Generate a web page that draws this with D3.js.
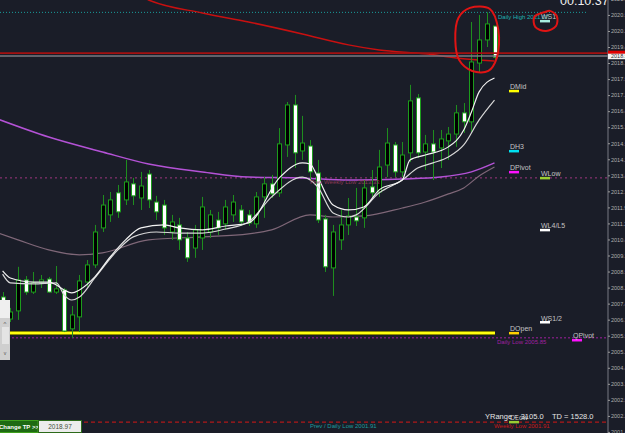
<!DOCTYPE html>
<html lang="en">
<head>
<meta charset="UTF-8">
<title>Price chart</title>
<script src="https://d3js.org/d3.v7.min.js"></script>
<style>
  body { margin: 0; background: #1a1d28; }
  svg { display: block; font-family: "Liberation Sans", Arial, sans-serif; }
</style>
</head>
<body>
<script>
// candles (black body = up bar, white body = down bar)
const opens  = [2007.76,2006.73,2007.11,2008.56,2007.99,2008.46,2008.60,2007.99,2008.09,2006.27,2006.83,2008.46,2009.26,2010.99,2011.60,2012.63,2012.30,2013.05,2012.39,2013.51,2012.20,2012.06,2010.80,2011.13,2010.52,2010.05,2010.52,2010.80,2011.36,2011.18,2011.60,2011.83,2011.60,2011.18,2012.44,2013.05,2012.63,2014.87,2016.74,2014.59,2014.82,2013.56,2011.41,2009.12,2010.43,2011.13,2011.50,2011.46,2012.91,2012.67,2013.93,2014.87,2013.61,2014.50,2017.07,2014.54,2014.92,2014.73,2015.06,2015.38,2016.37,2015.95,2018.70,2019.78,2020.43];
const highs  = [2007.99,2007.25,2009.17,2008.74,2008.93,2008.79,2008.70,2009.21,2008.18,2007.34,2008.79,2009.49,2011.13,2012.53,2012.67,2013.00,2014.17,2013.33,2013.61,2013.70,2012.49,2012.30,2011.60,2011.46,2010.80,2011.13,2012.44,2011.83,2011.74,2012.30,2012.53,2012.06,2011.83,2012.67,2013.37,2013.47,2015.66,2016.88,2017.21,2016.23,2015.10,2014.17,2011.60,2011.13,2011.83,2012.39,2012.86,2013.23,2013.70,2014.64,2015.66,2015.01,2015.01,2017.68,2017.25,2015.34,2015.57,2015.57,2015.71,2016.74,2016.83,2020.62,2020.95,2021.07,2020.43];
const lows   = [2007.34,2006.59,2006.69,2007.86,2007.90,2008.18,2007.95,2007.90,2006.12,2005.85,2006.12,2008.23,2009.12,2010.80,2011.27,2011.46,2012.06,2012.06,2011.83,2011.92,2011.36,2010.66,2010.43,2009.96,2009.40,2009.59,2009.96,2010.52,2010.66,2010.90,2011.27,2011.08,2011.08,2010.99,2011.46,2012.39,2012.44,2014.31,2013.79,2014.17,2013.23,2011.22,2008.93,2007.81,2009.96,2010.66,2011.08,2010.99,2012.44,2012.44,2013.37,2013.37,2013.37,2014.07,2014.26,2013.70,2013.23,2013.79,2014.17,2014.78,2015.43,2015.48,2018.28,2019.45,2018.75];
const closes = [2007.48,2007.06,2008.56,2007.99,2008.42,2008.56,2007.99,2008.14,2006.17,2006.92,2008.51,2009.26,2010.80,2012.06,2012.30,2011.74,2013.14,2012.49,2012.95,2012.30,2011.74,2010.99,2011.27,2010.43,2009.59,2010.90,2011.97,2011.60,2010.99,2011.97,2012.20,2011.27,2011.22,2012.44,2013.05,2012.58,2014.92,2016.74,2014.50,2014.96,2013.61,2011.36,2009.17,2010.80,2011.13,2011.55,2011.32,2012.86,2012.63,2013.84,2014.96,2013.61,2014.40,2016.93,2014.50,2014.92,2014.54,2015.15,2015.38,2016.37,2015.95,2018.75,2019.78,2020.53,2018.97];

// moving averages as [bar, price] points
const redMA    = [[17,2022.0],[19,2021.65],[26,2021.04],[32,2020.62],[39,2020.06],[45,2019.55],[49,2019.31],[55,2019.13],[59,2018.94],[64,2018.80]];
const purpleMA = [[-1,2016.13],[6,2015.24],[13,2014.54],[19,2013.98],[26,2013.61],[32,2013.37],[39,2013.33],[45,2013.23],[52,2013.28],[57,2013.37],[61,2013.61],[64,2014.03]];
const mauveMA  = [[-1,2010.80],[2,2010.43],[6,2009.96],[10,2009.73],[13,2009.82],[19,2010.43],[26,2010.57],[32,2010.71],[35,2010.90],[40,2011.60],[43,2011.50],[47,2011.55],[52,2011.92],[55,2012.20],[58,2012.58],[60,2012.86],[62,2013.42],[64,2013.84]];
const fastMA   = [[0,2008.98],[1,2008.65],[4,2008.46],[6,2008.46],[7,2008.32],[8,2008.09],[9,2007.95],[10,2008.09],[12,2008.70],[14,2009.63],[16,2010.43],[18,2010.99],[21,2011.13],[23,2010.99],[26,2010.90],[29,2011.08],[32,2011.22],[36,2013.33],[39,2014.03],[40,2013.98],[41,2013.37],[43,2012.06],[45,2011.83],[47,2011.97],[49,2012.77],[52,2013.23],[53,2014.17],[55,2014.40],[58,2014.78],[60,2015.57],[61,2016.41],[62,2017.35],[64,2018.00]];
const slowMA   = [[0,2008.83],[1,2008.42],[4,2008.37],[7,2008.42],[8,2007.86],[9,2007.62],[10,2007.76],[12,2008.65],[15,2009.96],[17,2010.57],[20,2010.80],[23,2010.75],[26,2010.75],[29,2010.94],[32,2011.27],[35,2012.44],[39,2013.37],[41,2012.91],[43,2011.69],[45,2011.50],[46,2011.60],[49,2012.63],[52,2013.23],[54,2013.79],[56,2014.03],[58,2014.31],[60,2014.87],[62,2016.04],[64,2016.97]];

// horizontal levels
const dailyHigh = 2021.07;
const prevWeeklyLow = 2013.33;
const dailyOpen = 2006.08;
const dailyLow = 2005.85;
const weeklyLow = 2001.91;
const priceLines = [2019.16, 2019.03];
const lastPrice = '2018.97';

// level markers on the right
const markerNames  = ['WS1','DMid','DH3','DPivot','WLow','WL4/L5','WS1/2','DOpen','QPivot','DLow'];
const markerPrices = [2020.67,2017.40,2014.59,2013.61,2013.33,2010.90,2006.59,2006.08,2005.75,2001.92];
const markerGroups = ['W','D','D','D','W','W','W','D','Q','D'];

// price axis
const tickValues = [2021.7,2020.95,2020.2,2019.45,2018.7,2017.95,2017.2,2016.45,2015.7,2014.95,2014.2,2013.45,2012.7,2011.95,2011.2,2010.45,2009.7,2008.95,2008.2,2007.45,2006.7,2005.95,2005.2,2004.45,2003.7,2002.95,2002.2,2001.45];
const tickLabels = ['2021.7','2020.9','2020.2','2019.4','2018.7','2017.9','2017.2','2016.4','2015.7','2014.9','2014.2','2013.4','2012.7','2011.9','2011.2','2010.4','2009.7','2008.9','2008.2','2007.4','2006.7','2005.9','2005.2','2004.4','2003.7','2002.9','2002.2','2001.4'];

// hand drawn annotations, [bar, price]
const bigLoop   = [[60.8,2021.28],[59.3,2020.81],[58.9,2019.78],[59.4,2018.84],[61.1,2018.33],[63.2,2018.33],[64.3,2018.94],[64.5,2020.25],[63.4,2021.23]];
const smallLoop = [[70.6,2021.09],[69.2,2020.86],[69.3,2020.39],[70.7,2020.2],[72.0,2020.43],[72.1,2020.9],[71.2,2021.14]];

const width = 625, height = 433;
const axisX = 608;

const svg = d3.select('body').append('svg')
  .attr('width', width).attr('height', height);

svg.append('rect').attr('width', width).attr('height', height).attr('fill', '#1a1d28');

const xScale = d3.scaleLinear().domain([0, 64]).range([2.6, 494.5]);
const yScale = d3.scaleLinear().domain([2001.4, 2020.9]).range([433, 16]);

const plot = svg.append('g');

// dotted / dashed level lines
plot.append('line').attr('x1', 0).attr('x2', 586).attr('y1', yScale(dailyHigh)).attr('y2', yScale(dailyHigh))
  .attr('stroke', '#1a9c9c').attr('stroke-dasharray', '1,2');
plot.append('line').attr('x1', 0).attr('x2', axisX).attr('y1', yScale(prevWeeklyLow)).attr('y2', yScale(prevWeeklyLow))
  .attr('stroke', '#a0357f').attr('stroke-dasharray', '2,3');
plot.append('line').attr('x1', 0).attr('x2', axisX).attr('y1', yScale(dailyLow)).attr('y2', yScale(dailyLow))
  .attr('stroke', '#a020a0').attr('stroke-dasharray', '2,2');
plot.append('line').attr('x1', 0).attr('x2', axisX).attr('y1', yScale(weeklyLow)).attr('y2', yScale(weeklyLow))
  .attr('stroke', '#b01818').attr('stroke-width', 1.2).attr('stroke-dasharray', '4,3');

// moving averages
const line = d3.line().x(d => xScale(d[0])).y(d => yScale(d[1])).curve(d3.curveMonotoneX);
plot.append('path').attr('d', line(mauveMA)).attr('fill', 'none').attr('stroke', '#7f6778').attr('stroke-width', 1.2);
plot.append('path').attr('d', line(purpleMA)).attr('fill', 'none').attr('stroke', '#b452d6').attr('stroke-width', 1.5);
plot.append('path').attr('d', line(redMA)).attr('fill', 'none').attr('stroke', '#c81010').attr('stroke-width', 1.5);

// yellow open line
plot.append('line').attr('x1', 0).attr('x2', 495).attr('y1', yScale(dailyOpen)).attr('y2', yScale(dailyOpen))
  .attr('stroke', '#8c8c00').attr('stroke-width', 4);
plot.append('line').attr('x1', 0).attr('x2', 495).attr('y1', yScale(dailyOpen)).attr('y2', yScale(dailyOpen))
  .attr('stroke', '#ffff10').attr('stroke-width', 2);

// candles
const candles = opens.map((o, i) => ({ i: i, o: o, h: highs[i], l: lows[i], c: closes[i] }));
const bars = plot.append('g');
bars.selectAll('.wick').data(candles).enter().append('line')
  .attr('x1', d => Math.round(xScale(d.i)) + 0.5).attr('x2', d => Math.round(xScale(d.i)) + 0.5)
  .attr('y1', d => yScale(d.h)).attr('y2', d => yScale(d.l))
  .attr('stroke', '#1e8e1e').attr('stroke-width', 1);
bars.selectAll('.body').data(candles).enter().append('rect')
  .attr('x', d => Math.round(xScale(d.i)) - 1.5)
  .attr('y', d => yScale(Math.max(d.o, d.c)))
  .attr('width', 4)
  .attr('height', d => Math.max(1, Math.abs(yScale(d.o) - yScale(d.c))))
  .attr('fill', d => d.c >= d.o ? '#000' : '#fff')
  .attr('stroke', '#1c9c1c').attr('stroke-width', 1);

// fast / slow white averages
plot.append('path').attr('d', line(slowMA)).attr('fill', 'none').attr('stroke', '#d8d8d8').attr('stroke-width', 1.2);
plot.append('path').attr('d', line(fastMA)).attr('fill', 'none').attr('stroke', '#f2f2f2').attr('stroke-width', 1.2);

// price lines
plot.append('line').attr('x1', 0).attr('x2', width).attr('y1', yScale(priceLines[0])).attr('y2', yScale(priceLines[0]))
  .attr('stroke', '#a31010').attr('stroke-width', 1.7);
plot.append('line').attr('x1', 0).attr('x2', width).attr('y1', yScale(priceLines[1])).attr('y2', yScale(priceLines[1]))
  .attr('stroke', '#7a7a80').attr('stroke-width', 1.3);

// level texts
const small = '6px';
svg.append('text').attr('x', 498).attr('y', yScale(dailyHigh) + 6.5).text('Daily High ' + dailyHigh.toFixed(2))
  .attr('fill', '#1fb0b0').attr('font-size', small);
svg.append('text').attr('x', 310).attr('y', yScale(prevWeeklyLow) + 6.5).text('Prev Weekly Low ' + prevWeeklyLow.toFixed(2))
  .attr('fill', '#8c3a55').attr('font-size', small);
svg.append('text').attr('x', 497).attr('y', yScale(dailyLow) + 6.5).text('Daily Low ' + dailyLow.toFixed(2))
  .attr('fill', '#a020a0').attr('font-size', small);
svg.append('text').attr('x', 310).attr('y', yScale(weeklyLow) + 5.5).text('Prev / Daily Low ' + weeklyLow.toFixed(2))
  .attr('fill', '#1a9e9e').attr('font-size', small);
svg.append('text').attr('x', 494).attr('y', yScale(weeklyLow) + 5.5).text('Weekly Low ' + weeklyLow.toFixed(2))
  .attr('fill', '#c81818').attr('font-size', small);

// markers
const markerColor = { 'WS1': '#a8eee0', 'DMid': '#ffff00', 'DH3': '#00e0f0', 'DPivot': '#ff10ff', 'WLow': '#9acd32',
  'WL4/L5': '#ffffff', 'WS1/2': '#ffffff', 'DOpen': '#ffd200', 'QPivot': '#ff10ff', 'DLow': '#9acd32' };
const groupX = { D: 509, W: 540, Q: 572 };
const mk = svg.append('g');
markerNames.forEach((name, i) => {
  const y = yScale(markerPrices[i]);
  const x = groupX[markerGroups[i]];
  mk.append('rect').attr('x', x).attr('y', y - 1).attr('width', 10).attr('height', 2.5).attr('fill', markerColor[name]);
  mk.append('text').attr('x', x + 1).attr('y', y - 1.5).text(name)
    .attr('fill', '#c4c4c4').attr('font-size', '7px');
});

// annotations
const loop = d3.line().x(d => xScale(d[0])).y(d => yScale(d[1])).curve(d3.curveCatmullRomClosed);
svg.append('path').attr('d', loop(bigLoop)).attr('fill', 'none').attr('stroke', '#e01414').attr('stroke-width', 2);
svg.append('path').attr('d', loop(smallLoop)).attr('fill', 'none').attr('stroke', '#e01414').attr('stroke-width', 2);

// price axis
svg.append('line').attr('x1', axisX).attr('x2', axisX).attr('y1', 0).attr('y2', height)
  .attr('stroke', '#686b74').attr('stroke-width', 1.2);
const yAxis = d3.axisRight(yScale).tickValues(tickValues)
  .tickFormat((d, i) => tickLabels[i]).tickSize(2).tickPadding(1);
const ax = svg.append('g').attr('transform', `translate(${axisX},0)`).call(yAxis);
ax.select('.domain').remove();
ax.selectAll('.tick line').attr('stroke', '#9a9a9a');
ax.selectAll('.tick text').attr('fill', '#b0b0b0').attr('font-size', '5.5px')
  .attr('font-family', '"Liberation Sans", Arial, sans-serif');

// last price box
svg.append('rect').attr('x', axisX).attr('y', yScale(priceLines[0]) - 2.5).attr('width', width - axisX).attr('height', 3)
  .attr('fill', '#e00000');
svg.append('rect').attr('x', axisX).attr('y', yScale(priceLines[0]) + 0.5).attr('width', width - axisX).attr('height', 5.5)
  .attr('fill', '#f4f4f4');
svg.append('text').attr('x', axisX + 3).attr('y', yScale(priceLines[0]) + 5).text(lastPrice)
  .attr('fill', '#333').attr('font-size', '5.5px');

// clock
svg.append('text').attr('x', 560).attr('y', 5).text('00:10:37')
  .attr('fill', '#f0f0f0').attr('font-size', '12.5px');

// range text
svg.append('text').attr('x', 485).attr('y', 419).text('YRange = 3105.0')
  .attr('fill', '#e6e6e6').attr('font-size', '7.5px');
svg.append('text').attr('x', 552).attr('y', 419).text('TD = 1528.0')
  .attr('fill', '#e6e6e6').attr('font-size', '7.5px');

// bottom left buttons
svg.append('rect').attr('x', -1).attr('y', 420.5).attr('width', 39).attr('height', 12)
  .attr('fill', '#1e6a12').attr('stroke', '#3ea01c');
svg.append('text').attr('x', -1).attr('y', 429).text('Change TP >>')
  .attr('fill', '#ffffff').attr('font-size', '6px').attr('font-weight', 'bold');
svg.append('rect').attr('x', 38.5).attr('y', 420.5).attr('width', 43).attr('height', 12)
  .attr('fill', '#ececec').attr('stroke', '#2c6a1a');
svg.append('text').attr('x', 60).attr('y', 429).attr('text-anchor', 'middle').text(lastPrice)
  .attr('fill', '#44503a').attr('font-size', '6.5px');

// left scroll widget
svg.append('rect').attr('x', 0).attr('y', 300).attr('width', 10).attr('height', 18).attr('fill', '#efefef');
svg.append('rect').attr('x', 0).attr('y', 318).attr('width', 10).attr('height', 42).attr('fill', '#cfcfcf');
svg.append('rect').attr('x', 2).attr('y', 327).attr('width', 7).attr('height', 17).attr('fill', '#e4e4e4');
svg.append('text').attr('x', 5).attr('y', 326).attr('text-anchor', 'middle').text('^')
  .attr('fill', '#555').attr('font-size', '6px');
svg.append('text').attr('x', 5).attr('y', 355).attr('text-anchor', 'middle').text('v')
  .attr('fill', '#555').attr('font-size', '5px');
</script>
</body>
</html>
